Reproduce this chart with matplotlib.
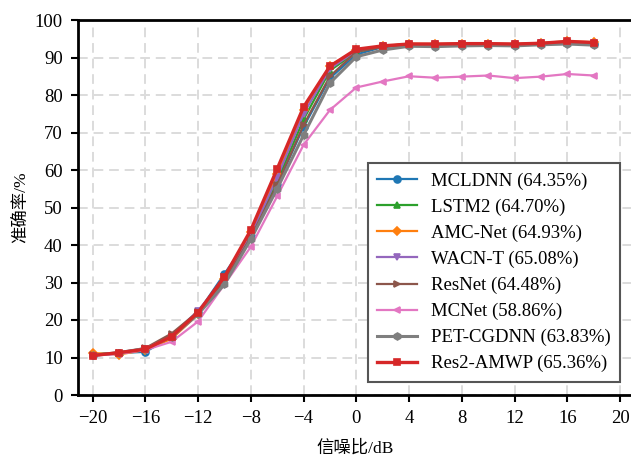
import numpy as np
import matplotlib
matplotlib.use("Agg")
import matplotlib.pyplot as plt

plt.rcParams['font.family'] = ['Liberation Serif', 'Noto Sans CJK SC', 'DejaVu Sans']
plt.rcParams['axes.unicode_minus'] = True

snr = list(range(-20, 20, 2))

mcldnn = [10.6, 11.2, 11.5, 15.5, 22.0, 32.3, 42.5, 56.0, 71.5, 84.5, 90.8, 92.8, 93.3, 93.2, 93.4, 93.5, 93.4, 93.6, 93.8, 93.6]
lstm2 = [10.8, 11.3, 12.3, 15.8, 21.8, 30.5, 42.5, 57.0, 73.5, 86.5, 91.5, 93.0, 93.6, 93.5, 93.7, 93.6, 93.5, 93.8, 94.0, 93.9]
amcnet = [11.2, 10.8, 12.0, 15.0, 21.5, 31.0, 43.5, 59.0, 76.0, 87.8, 92.0, 93.0, 93.7, 93.6, 93.7, 93.7, 93.6, 93.9, 94.3, 94.1]
wacnt = [10.5, 11.0, 12.2, 15.8, 22.5, 31.0, 42.5, 58.0, 75.0, 87.0, 91.8, 93.0, 93.6, 93.5, 93.6, 93.6, 93.5, 93.8, 94.0, 93.8]
resnet = [10.7, 11.3, 12.5, 16.4, 22.2, 30.5, 42.0, 56.0, 72.0, 85.0, 91.5, 92.8, 93.4, 93.3, 93.5, 93.5, 93.4, 93.7, 93.9, 93.7]
mcnet = [10.5, 11.0, 12.0, 14.2, 19.6, 29.5, 39.5, 53.0, 66.7, 76.0, 82.0, 83.6, 85.0, 84.6, 84.9, 85.2, 84.5, 84.9, 85.6, 85.2]
petcgdnn = [10.6, 11.3, 12.4, 15.5, 21.5, 29.5, 41.5, 55.0, 69.3, 83.2, 90.2, 92.0, 93.0, 92.9, 93.1, 93.2, 93.1, 93.4, 93.6, 93.3]
res2amwp = [10.5, 11.3, 12.2, 15.6, 22.0, 31.5, 44.0, 60.3, 76.8, 87.7, 92.2, 93.1, 93.6, 93.6, 93.7, 93.7, 93.6, 93.8, 94.3, 94.0]

labels = ['MCLDNN (64.35%)', 'LSTM2 (64.70%)', 'AMC-Net (64.93%)', 'WACN-T (65.08%)',
          'ResNet (64.48%)', 'MCNet (58.86%)', 'PET-CGDNN (63.83%)', 'Res2-AMWP (65.36%)']
series = [mcldnn, lstm2, amcnet, wacnt, resnet, mcnet, petcgdnn, res2amwp]
colors = ['#1f77b4', '#2ca02c', '#ff7f0e', '#9467bd', '#8c564b', '#e377c2', '#7f7f7f', '#d62728']
markers = ['o', '^', 'D', 'v', '>', '<', 'h', 's']
widths = [1.6, 1.6, 1.6, 1.6, 1.6, 1.6, 2.2, 2.4]

fig = plt.figure(figsize=(6.31, 4.58), dpi=100)
ax = fig.add_axes([78 / 631, 63 / 458, 554 / 631, 375 / 458])

for y, lab, c, m, lw in zip(series, labels, colors, markers, widths):
    ms = 4 if m == 'D' else 5
    ax.plot(snr, y, color=c, marker=m, lw=lw, ms=ms, mew=1.2, label=lab)

ax.set_xlim(-21.1, 20.9)
ax.set_ylim(0, 100)
ax.set_xticks(range(-20, 21, 4))
ax.set_yticks(range(0, 101, 10))
ax.grid(True, ls=(0, (5, 3)), color='#dcdcdc', lw=1.4)
ax.set_axisbelow(True)

for s in ['left', 'bottom', 'top']:
    ax.spines[s].set_linewidth(2)
    ax.spines[s].set_color('black')
ax.spines['right'].set_visible(False)
ax.tick_params(direction='out', length=5, width=1.5, labelsize=13.5, pad=6, top=False, right=False)

ax.set_xlabel('信噪比/dB', fontsize=12.5, labelpad=9)
ax.set_ylabel('准确率/%', fontsize=12.5, labelpad=3)

leg = ax.legend(loc='lower right', bbox_to_anchor=(0.978, 0.035), borderaxespad=0,
                fontsize=13.5, fancybox=False, framealpha=1, edgecolor='#555555',
                handlelength=2.1, handletextpad=0.75, labelspacing=0.47, borderpad=0.5)
leg.get_frame().set_linewidth(1.5)

fig.savefig('out.png', dpi=100)
